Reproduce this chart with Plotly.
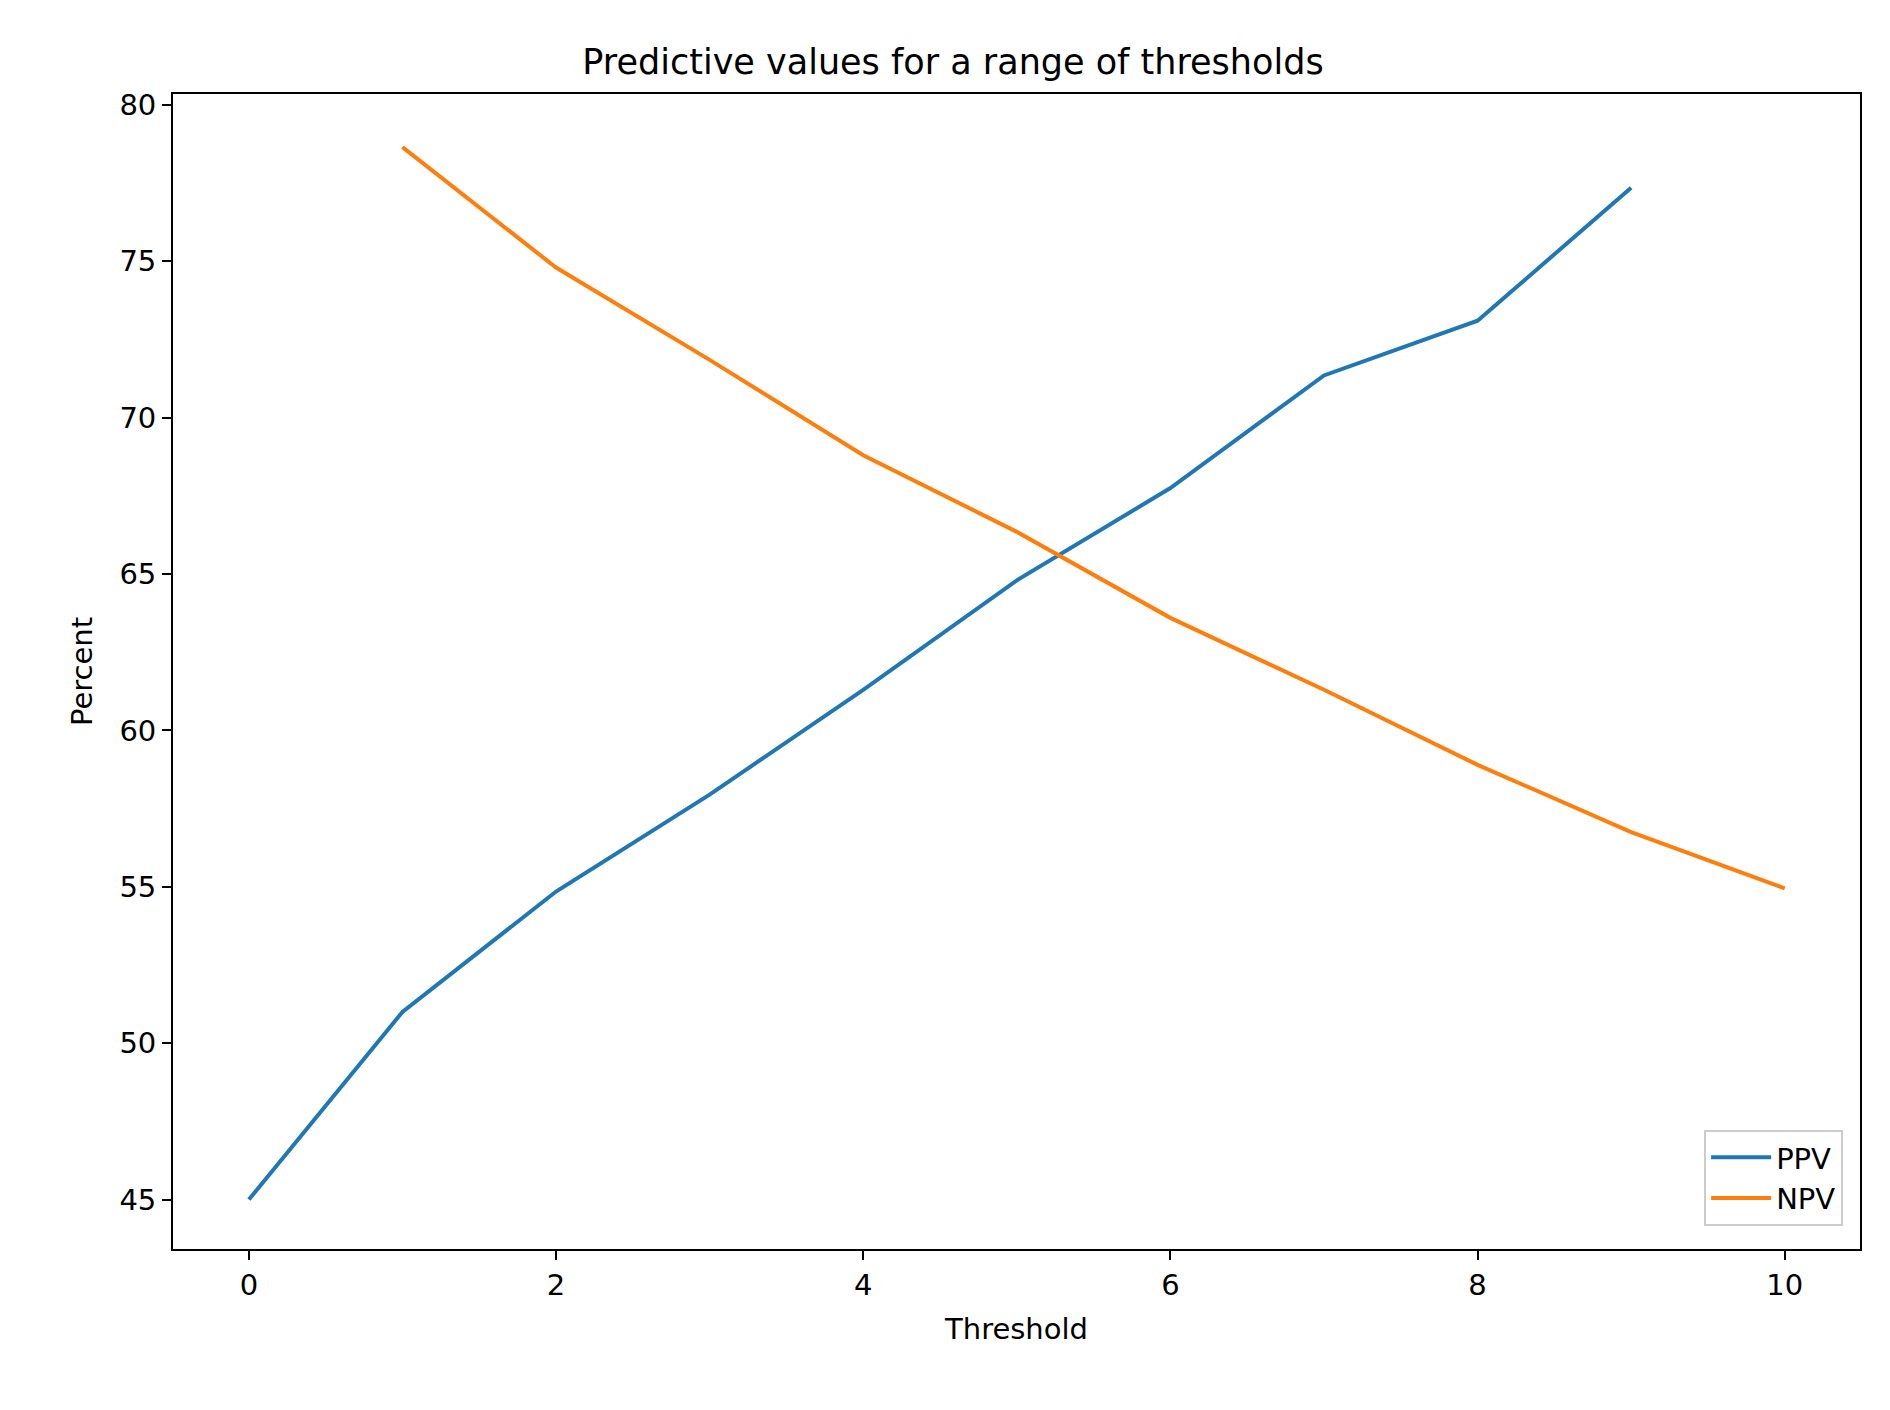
import plotly.graph_objects as go

ppv_x = [0, 1, 2, 3, 4, 5, 6, 7, 8, 9]
ppv_y = [45.0, 51.0, 54.85, 57.95, 61.3, 64.8, 67.75, 71.35, 73.1, 77.35]
npv_x = [1, 2, 3, 4, 5, 6, 7, 8, 9, 10]
npv_y = [78.65, 74.8, 71.85, 68.8, 66.35, 63.6, 61.3, 58.9, 56.75, 54.95]

fig = go.Figure()
fig.add_scatter(x=ppv_x, y=ppv_y, mode="lines", name="PPV", line=dict(color="#1f77b4", width=4))
fig.add_scatter(x=npv_x, y=npv_y, mode="lines", name="NPV", line=dict(color="#ff7f0e", width=4))

ax = dict(showgrid=False, zeroline=False, showline=True, linecolor="black", linewidth=1.8, mirror=True,
          ticks="outside", ticklen=9, tickwidth=1.8, tickcolor="black",
          tickfont=dict(size=29, color="black"))
fig.update_layout(
    width=1890, height=1410, plot_bgcolor="white", paper_bgcolor="white",
    font=dict(family="DejaVu Sans", color="black"),
    margin=dict(l=165, r=38, t=86, b=169),
    title=dict(text="Predictive values for a range of thresholds", x=0.5, xanchor="center",
               y=0.962, yanchor="middle", font=dict(size=35)),
    xaxis=dict(ax, range=[-0.494, 10.49], tickvals=[0, 2, 4, 6, 8, 10],
               title=dict(text="Threshold", font=dict(size=29), standoff=18)),
    yaxis=dict(ax, range=[43.42, 80.35], tickvals=[45, 50, 55, 60, 65, 70, 75, 80],
               title=dict(text="Percent", font=dict(size=29), standoff=18)),
    legend=dict(x=0.99, y=0.02, xanchor="right", yanchor="bottom", bgcolor="white",
                bordercolor="#cccccc", borderwidth=2, font=dict(size=29), itemwidth=60,
                tracegroupgap=8),
)
fig.write_html("out.html")
